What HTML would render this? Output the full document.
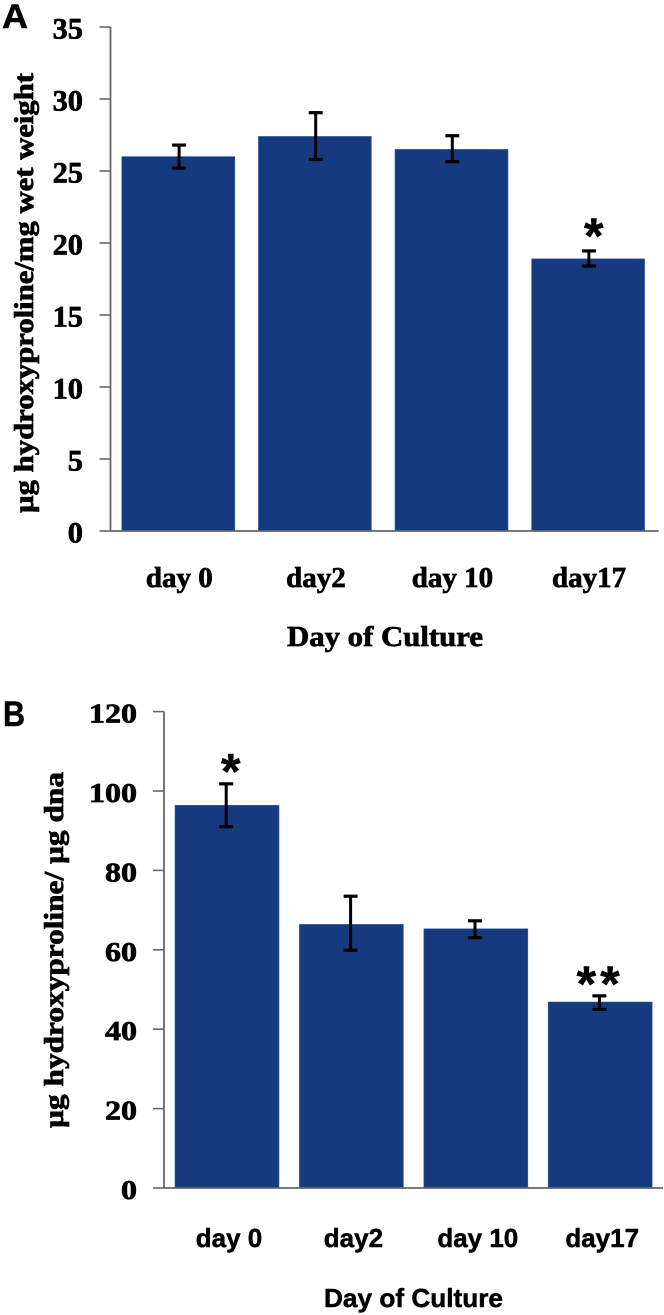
<!DOCTYPE html>
<html>
<head>
<meta charset="utf-8">
<title>Hydroxyproline by day of culture</title>
<style>
html,body{margin:0;padding:0;background:#fff}
svg{display:block}
.serif{font-family:"Liberation Serif",serif;font-weight:bold;fill:#000;stroke:#000;stroke-width:.7px}
.sans{font-family:"Liberation Sans",sans-serif;font-weight:bold;fill:#000;stroke:#000;stroke-width:.5px}
</style>
</head>
<body>
<svg id="figure" width="664" height="1315" viewBox="0 0 664 1315" xmlns="http://www.w3.org/2000/svg">
  <text class="sans" x="2" y="28" font-size="34" textLength="26" lengthAdjust="spacingAndGlyphs">A</text>
  <text class="sans" x="3" y="726" font-size="35" textLength="22" lengthAdjust="spacingAndGlyphs">B</text>
  <g id="chart-a"></g>
  <g id="chart-b"></g>
</svg>
<script>
var categoriesA = ['day 0', 'day2', 'day 10', 'day17'];
var valuesA = [26.0, 27.4, 26.5, 18.9];
var errHighA = [26.8, 29.05, 27.45, 19.45];
var errLowA = [25.2, 25.8, 25.65, 18.4];
var ticksA = [0, 5, 10, 15, 20, 25, 30, 35];
var sigA = ['', '', '', '*'];

var categoriesB = ['day 0', 'day2', 'day 10', 'day17'];
var valuesB = [96.4, 66.4, 65.3, 46.85];
var errHighB = [101.8, 73.5, 67.3, 48.4];
var errLowB = [91.0, 59.9, 63.05, 45.0];
var ticksB = [0, 20, 40, 60, 80, 100, 120];
var sigB = ['*', '', '', '**'];

var NS = 'http://www.w3.org/2000/svg';

function make(parent, tag, attrs, text) {
  var el = document.createElementNS(NS, tag);
  Object.keys(attrs).forEach(function (k) { el.setAttribute(k, attrs[k]); });
  if (text !== undefined) el.textContent = text;
  parent.appendChild(el);
  return el;
}

function drawChart(cfg) {
  var root = document.getElementById(cfg.id);
  function y(v) { return cfg.y0 - v * cfg.pxPerUnit; }
  function x(i) { return cfg.xStart + (i + 0.5) * cfg.step; }

  cfg.values.forEach(function (v, i) {
    var bar = make(root, 'rect', { x: x(i) - cfg.barW / 2, y: y(v), width: cfg.barW, height: cfg.y0 - y(v), fill: '#163a80', stroke: '#3c63a8', 'stroke-width': 0.6 });
    
    
  });

  var yLine = make(root, 'line', { x1: cfg.axisX, x2: cfg.axisX, y1: y(cfg.ticks[cfg.ticks.length - 1]), y2: cfg.y0, stroke: '#666', 'stroke-width': 1.8 });
  
  
  var xLine = make(root, 'line', { x1: cfg.axisX, x2: cfg.axisEnd, y1: cfg.y0, y2: cfg.y0, stroke: '#666', 'stroke-width': 1.8 });
  
  

  cfg.ticks.forEach(function (t) {
    var tick = make(root, 'line', { x1: cfg.axisX - cfg.tickLen, x2: cfg.axisX, y1: y(t), y2: y(t), stroke: '#666', 'stroke-width': 1.6 });
    
    
    var str = String(t);
    var label = make(root, 'text', { class: 'serif', x: cfg.tickRight, y: y(t) + cfg.tickDy, 'text-anchor': 'end', 'font-size': cfg.tickFont, textLength: str.length * cfg.digitW, lengthAdjust: 'spacingAndGlyphs' }, str);
    
    
  });

  cfg.values.forEach(function (v, i) {
    var ex = x(i) + cfg.errDx;
    var stem = make(root, 'line', { x1: ex, x2: ex, y1: y(cfg.errHigh[i]), y2: y(cfg.errLow[i]), stroke: '#000', 'stroke-width': 3 });
    
    
    var capTop = make(root, 'line', { x1: ex - 7, x2: ex + 7, y1: y(cfg.errHigh[i]), y2: y(cfg.errHigh[i]), stroke: '#000', 'stroke-width': 3.2 });
    
    
    var capBottom = make(root, 'line', { x1: ex - 7, x2: ex + 7, y1: y(cfg.errLow[i]), y2: y(cfg.errLow[i]), stroke: '#000', 'stroke-width': 3.2 });
    
    

    var catLabel = make(root, 'text', { class: cfg.catClass, x: x(i) + cfg.catDx, y: cfg.catY, 'text-anchor': 'middle', 'font-size': cfg.catFont }, cfg.categories[i]);
    
    

    if (cfg.sig[i]) {
      var isDouble = cfg.sig[i].length > 1;
      var star = make(root, 'text', { class: 'sans', x: x(i) + (isDouble ? cfg.sigDxDouble : cfg.sigDx), y: y(cfg.errHigh[i]) - (isDouble ? cfg.sigGapDouble : cfg.sigGap), 'text-anchor': 'middle', 'font-size': 50, 'letter-spacing': cfg.sigSpacing }, cfg.sig[i]);
      
      
    }
  });

  var xTitle = make(root, 'text', { class: cfg.catClass, x: cfg.xTitleX, y: cfg.xTitleY, 'font-size': cfg.xTitleFont, textLength: cfg.xTitleW, lengthAdjust: 'spacingAndGlyphs' }, cfg.xTitle);
  
  

  var yTitle = make(root, 'text', { class: 'serif', transform: 'translate(' + cfg.yTitleX + ',' + cfg.yTitleBottom + ') rotate(-90)', x: 0, y: 0, 'font-size': cfg.yTitleFont, textLength: cfg.yTitleLen, lengthAdjust: 'spacingAndGlyphs' }, cfg.yTitle);
  
  
}

drawChart({
  id: 'chart-a', categories: categoriesA, values: valuesA, errHigh: errHighA, errLow: errLowA, ticks: ticksA, sig: sigA,
  y0: 531, pxPerUnit: 14.4, xStart: 110, step: 136.6, barW: 113, axisX: 110.5, axisEnd: 658.5, tickLen: 11,
  tickRight: 83, tickDy: 11.5, tickFont: 30, digitW: 15.2, errDx: 0.8, catClass: 'serif', catDx: 1, catY: 587, catFont: 29,
  sigDx: 5.6, sigDxDouble: 0, sigGap: -2, sigGapDouble: -5, sigSpacing: 0,
  xTitle: 'Day of Culture', xTitleX: 287, xTitleY: 646, xTitleFont: 29, xTitleW: 196,
  yTitle: '\u00b5g hydroxyproline/mg wet weight', yTitleX: 33, yTitleBottom: 513, yTitleFont: 27, yTitleLen: 440
});

drawChart({
  id: 'chart-b', categories: categoriesB, values: valuesB, errHigh: errHighB, errLow: errLowB, ticks: ticksB, sig: sigB,
  y0: 1188, pxPerUnit: 3.97, xStart: 164.8, step: 124.4, barW: 104, axisX: 164, axisEnd: 663, tickLen: 11,
  tickRight: 137, tickDy: 11, tickFont: 27, digitW: 16, errDx: -0.8, catClass: 'sans', catDx: 2, catY: 1247, catFont: 26,
  sigDx: 5.8, sigDxDouble: 0.1, sigGap: -4.5, sigGapDouble: -5, sigSpacing: 4.2,
  xTitle: 'Day of Culture', xTitleX: 324, xTitleY: 1307, xTitleFont: 26, xTitleW: 179,
  yTitle: '\u00b5g hydroxyproline/ \u00b5g  dna', yTitleX: 63, yTitleBottom: 1128, yTitleFont: 27, yTitleLen: 356
});
</script>
</body>
</html>
